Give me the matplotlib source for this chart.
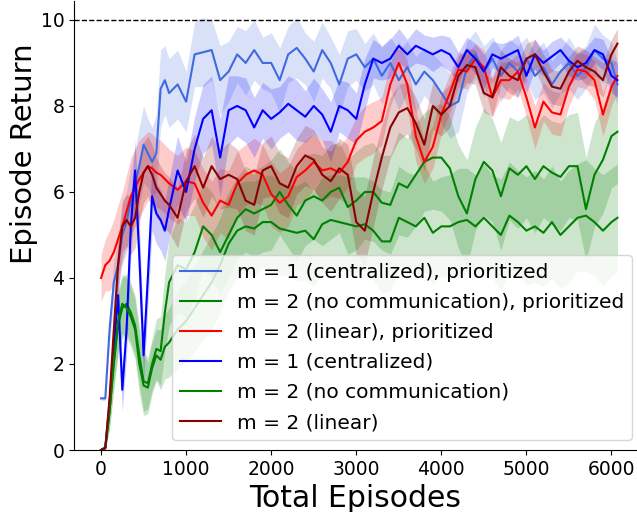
import numpy as np
import matplotlib
matplotlib.use("Agg")
import matplotlib.pyplot as plt

# Episode grid: every 50 episodes early on, then every 100
episodes = list(range(0, 801, 50)) + list(range(900, 6001, 100)) + [6070]

# Mean episode return per run
cent_prio = [1.2, 1.2, 2.8, 3.9, 4.3, 5.0, 5.3, 5.8, 6.2, 6.6, 7.1, 6.9, 6.7, 6.9, 8.4, 8.6, 8.3,
             8.5, 8.1, 9.2, 9.25, 9.3, 8.6, 8.8, 9.2, 9.0, 9.3,
             9.0, 9.0, 8.6, 9.2, 9.35, 9.1, 8.8, 9.3, 9.0, 8.5,
             9.1, 9.2, 8.9, 9.1, 8.7, 9.0, 8.6, 8.9, 8.5, 8.8,
             8.6, 8.3, 8.0, 8.1, 8.9, 9.2, 8.8, 9.1, 8.7, 9.0,
             8.8, 9.1, 8.7, 8.9, 8.5, 8.8, 9.0, 8.7, 8.9, 9.3,
             9.1, 9.0, 8.5]
nocomm_prio = [0.0, 0.05, 0.9, 2.0, 2.9, 3.3, 3.4, 3.2, 2.9, 2.2, 1.6, 1.55, 2.0, 2.35, 2.3, 3.2, 3.9,
               4.3, 4.2, 4.6, 5.2, 5.0, 4.6, 5.0, 5.4, 5.6, 5.5,
               5.6, 5.7, 6.0, 5.7, 5.45, 5.8, 5.9, 5.8, 6.0, 6.1,
               5.65, 5.8, 6.0, 6.0, 5.75, 5.7, 6.2, 6.1, 6.4, 6.7,
               6.8, 6.8, 6.55, 5.9, 5.5, 6.3, 6.7, 6.5, 5.9, 6.55,
               6.4, 6.6, 6.3, 6.6, 6.45, 6.35, 6.6, 6.6, 5.6, 6.4,
               6.75, 7.3, 7.4]
linear_prio = [4.0, 4.3, 4.4, 4.6, 4.9, 5.2, 5.55, 5.9, 6.1, 6.3, 6.45, 6.6, 6.55, 6.45, 6.4, 6.3, 6.2,
               6.05, 6.25, 6.2, 5.75, 5.45, 5.8, 5.7, 6.2, 6.4, 6.5,
               6.4, 5.95, 5.75, 5.9, 6.35, 6.5, 6.7, 6.5, 6.55, 6.45,
               6.7, 7.2, 7.4, 7.5, 7.65, 8.5, 9.0, 8.5, 7.3, 6.7,
               7.05, 7.8, 8.3, 8.85, 8.8, 9.1, 8.9, 8.2, 8.6, 8.6,
               8.8, 8.2, 7.5, 8.1, 7.85, 7.8, 8.45, 8.85, 8.8, 8.6,
               7.8, 8.45, 8.7]
cent = [0.0, 0.05, 1.1, 2.4, 3.6, 1.4, 2.8, 5.2, 6.5, 4.5, 2.2, 4.0, 5.9, 5.5, 5.35, 5.1, 5.6,
        6.5, 6.0, 7.0, 7.7, 7.9, 6.8, 7.9, 8.0, 7.9, 7.5,
        7.9, 7.7, 7.85, 8.05, 7.9, 7.75, 8.0, 7.8, 7.4, 8.0,
        7.9, 7.7, 8.5, 9.1, 9.0, 9.1, 9.4, 9.2, 9.4, 9.3,
        9.2, 9.3, 9.2, 8.9, 9.3, 9.1, 8.8, 9.2, 9.1, 9.2,
        9.3, 8.7, 9.2, 9.0, 9.15, 9.3, 9.05, 8.9, 9.0, 9.3,
        9.2, 8.7, 8.6]
nocomm = [0.0, 0.05, 0.9, 2.1, 3.0, 3.4, 3.3, 3.1, 2.8, 2.0, 1.5, 1.45, 1.9, 2.2, 2.1, 2.4, 2.5,
          2.8, 3.0, 3.3, 3.6, 3.9, 4.3, 4.8, 5.1, 5.2, 5.15,
          5.3, 5.3, 5.15, 5.1, 5.05, 5.1, 4.9, 5.25, 5.35, 5.3,
          5.25, 5.2, 5.25, 5.1, 4.85, 4.85, 5.4, 5.3, 5.2, 5.4,
          5.05, 5.2, 5.2, 5.3, 5.35, 5.2, 5.4, 5.2, 5.0, 5.45,
          5.3, 5.1, 5.2, 5.05, 5.3, 5.0, 5.2, 5.4, 5.45, 5.3,
          5.1, 5.3, 5.4]
linear = [0.0, 0.05, 1.2, 2.8, 4.3, 5.2, 5.35, 5.2, 5.4, 6.0, 6.45, 6.6, 6.4, 6.1, 5.95, 5.8, 5.7,
          5.4, 6.25, 6.6, 6.1, 6.6, 6.3, 6.4, 6.3, 5.8, 5.7,
          6.5, 6.6, 6.2, 6.1, 6.6, 6.85, 6.75, 6.4, 6.25, 6.55,
          6.4, 5.3, 5.1, 6.0, 6.8, 7.5, 7.85, 7.95, 7.6, 7.1,
          8.0, 7.8, 8.0, 8.7, 8.95, 8.9, 8.3, 8.2, 8.9, 8.7,
          8.6, 9.1, 9.2, 8.8, 8.45, 8.4, 8.8, 9.05, 8.9, 8.8,
          8.6, 9.2, 9.45]

# Half-width of the shaded spread around each mean
cent_prio_sd = [0.05, 0.05, 0.3, 0.5, 0.6, 0.7, 0.7, 0.8, 0.8, 0.9, 0.9, 0.8, 0.8, 0.9, 0.9, 0.8, 0.8,
                0.8, 0.7, 0.75, 0.8, 0.7, 0.8, 0.7, 0.65, 0.75, 0.7,
                0.6, 0.7, 0.75, 0.65, 0.7, 0.6, 0.7, 0.65, 0.6, 0.7,
                0.65, 0.6, 0.55, 0.6, 0.65, 0.6, 0.7, 0.6, 0.65, 0.55,
                0.6, 0.7, 0.75, 0.7, 0.6, 0.55, 0.6, 0.5, 0.6, 0.55,
                0.6, 0.5, 0.55, 0.6, 0.55, 0.5, 0.6, 0.55, 0.5, 0.6,
                0.55, 0.5, 0.5]
nocomm_prio_sd = [0.05, 0.05, 0.4, 0.6, 0.7, 0.7, 0.7, 0.7, 0.7, 0.7, 0.7, 0.6, 0.6, 0.7, 0.8, 0.9, 1.0,
                  1.1, 1.1, 1.1, 1.0, 1.0, 1.0, 1.0, 0.95, 1.0, 1.0,
                  1.0, 1.05, 1.0, 1.0, 1.05, 1.05, 1.0, 1.05, 1.1, 1.05,
                  1.1, 1.15, 1.1, 1.15, 1.1, 1.15, 1.2, 1.15, 1.2, 1.15,
                  1.2, 1.25, 1.2, 1.2, 1.25, 1.2, 1.25, 1.2, 1.25, 1.2,
                  1.25, 1.2, 1.25, 1.2, 1.2, 1.25, 1.2, 1.25, 1.2, 1.2,
                  1.25, 1.2, 1.2]
linear_prio_sd = [0.55, 0.6, 0.7, 0.75, 0.8, 0.8, 0.85, 0.9, 0.9, 0.9, 0.85, 0.8, 0.8, 0.8, 0.8, 0.8, 0.8,
                  0.8, 0.8, 0.75, 0.8, 0.8, 0.75, 0.8, 0.75, 0.7, 0.75,
                  0.7, 0.75, 0.7, 0.7, 0.65, 0.7, 0.65, 0.7, 0.65, 0.6,
                  0.6, 0.55, 0.6, 0.6, 0.55, 0.5, 0.5, 0.55, 0.6, 0.5,
                  0.5, 0.45, 0.45, 0.4, 0.4, 0.35, 0.4, 0.45, 0.4, 0.45,
                  0.4, 0.45, 0.5, 0.45, 0.5, 0.5, 0.45, 0.4, 0.4, 0.45,
                  0.5, 0.45, 0.4]
cent_sd = [0.05, 0.05, 0.3, 0.5, 0.6, 0.5, 0.6, 0.7, 0.7, 0.8, 0.6, 0.7, 0.8, 0.7, 0.7, 0.7, 0.7,
           0.8, 0.7, 0.75, 0.8, 0.8, 0.9, 0.8, 0.7, 0.75, 0.7,
           0.65, 0.7, 0.6, 0.65, 0.7, 0.6, 0.65, 0.6, 0.7, 0.6,
           0.65, 0.6, 0.6, 0.45, 0.4, 0.45, 0.4, 0.35, 0.4, 0.35,
           0.4, 0.35, 0.4, 0.35, 0.3, 0.35, 0.4, 0.3, 0.35, 0.3,
           0.35, 0.4, 0.35, 0.3, 0.35, 0.3, 0.35, 0.3, 0.35, 0.3,
           0.35, 0.4, 0.4]
nocomm_sd = [0.05, 0.05, 0.4, 0.6, 0.7, 0.7, 0.7, 0.7, 0.7, 0.7, 0.7, 0.6, 0.6, 0.6, 0.7, 0.75, 0.8,
             0.9, 0.95, 1.0, 1.05, 1.1, 1.1, 1.1, 1.1, 1.05, 1.1,
             1.05, 1.1, 1.1, 1.05, 1.1, 1.15, 1.1, 1.1, 1.05, 1.1,
             1.1, 1.15, 1.1, 1.15, 1.2, 1.15, 1.2, 1.15, 1.2, 1.25,
             1.2, 1.15, 1.2, 1.25, 1.2, 1.2, 1.25, 1.2, 1.3, 1.25,
             1.2, 1.25, 1.3, 1.25, 1.3, 1.25, 1.3, 1.25, 1.3, 1.25,
             1.3, 1.25, 1.25]
linear_sd = [0.05, 0.05, 0.3, 0.5, 0.6, 0.6, 0.6, 0.65, 0.7, 0.7, 0.7, 0.7, 0.7, 0.7, 0.65, 0.65, 0.65,
             0.7, 0.7, 0.75, 0.7, 0.7, 0.7, 0.75, 0.7, 0.7, 0.7,
             0.65, 0.7, 0.7, 0.7, 0.65, 0.7, 0.7, 0.65, 0.7, 0.7,
             0.7, 0.75, 0.8, 0.8, 0.75, 0.7, 0.65, 0.6, 0.6, 0.6,
             0.55, 0.5, 0.5, 0.45, 0.4, 0.4, 0.45, 0.45, 0.4, 0.4,
             0.4, 0.35, 0.35, 0.4, 0.4, 0.4, 0.35, 0.35, 0.4, 0.35,
             0.4, 0.35, 0.35]

runs = [
    ("m = 1 (centralized), prioritized", cent_prio, cent_prio_sd, "royalblue"),
    ("m = 2 (no communication), prioritized", nocomm_prio, nocomm_prio_sd, "green"),
    ("m = 2 (linear), prioritized", linear_prio, linear_prio_sd, "red"),
    ("m = 1 (centralized)", cent, cent_sd, "blue"),
    ("m = 2 (no communication)", nocomm, nocomm_sd, "green"),
    ("m = 2 (linear)", linear, linear_sd, "darkred"),
]

fig = plt.figure(figsize=(6.37, 5.12), dpi=100)
ax = fig.add_axes([74 / 637, 62 / 512, 563 / 637, 449.4 / 512])

x = np.array(episodes)
for label, mean, sd, color in runs:
    mean = np.array(mean)
    sd = np.array(sd)
    ax.fill_between(x, mean - sd, mean + sd, color=color, alpha=0.2, linewidth=0)
    ax.plot(x, mean, color=color, linewidth=1.5, label=label)

# Maximum achievable return
ax.axhline(10, color="black", linestyle="--", linewidth=1.0)

ax.set_xlim(-318, 6300)
ax.set_ylim(0, 10.45)
ax.set_xticks([0, 1000, 2000, 3000, 4000, 5000, 6000])
ax.set_yticks([0, 2, 4, 6, 8, 10])
ax.tick_params(labelsize=13.5)
ax.spines["top"].set_visible(False)
ax.spines["right"].set_visible(False)

ax.set_xlabel("Total Episodes", fontsize=21.5)
ax.set_ylabel("Episode Return", fontsize=21)
ax.yaxis.set_label_coords(-0.064, 0.66)

ax.legend(loc="lower right", bbox_to_anchor=(0.991, 0.022), borderaxespad=0,
          fontsize=14.5, labelspacing=0.55)

fig.savefig("out.png", dpi=100)
